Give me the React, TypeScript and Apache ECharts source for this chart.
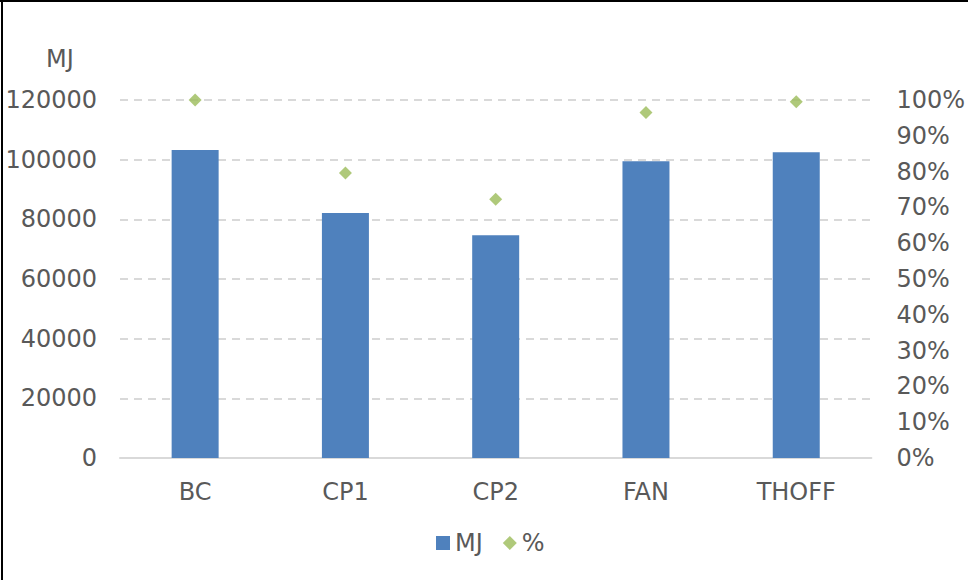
import React, { useEffect, useRef } from "react";
import * as echarts from "echarts";

const categories = ["BC", "CP1", "CP2", "FAN", "THOFF"];
const mjValues = [103200, 82100, 74700, 99500, 102500];
const pctValues = [100, 79.6, 72.3, 96.5, 99.5];

const FONT = "'DejaVu Sans', Verdana, sans-serif";
const TXT = "#595959";
const FS = 24;

export default function App() {
  const ref = useRef<HTMLDivElement>(null);
  useEffect(() => {
    const chart = echarts.init(ref.current!, null, { renderer: "svg" });
    chart.setOption({
      animation: false,
      backgroundColor: "#fff",
      textStyle: { fontFamily: FONT, color: TXT },
      grid: { left: 120, right: 96, top: 100, bottom: 122 },
      legend: {
        bottom: 20,
        left: 431,
        itemWidth: 14,
        itemHeight: 14,
        itemGap: 20,
        textStyle: { fontSize: FS, color: TXT, fontFamily: FONT },
        data: [
          { name: "MJ", icon: "rect" },
          { name: "%", icon: "diamond" },
        ],
      },
      graphic: [
        { type: "line", shape: { x1: 0, y1: 1, x2: 968, y2: 1 }, style: { stroke: "#000", lineWidth: 2 } },
        { type: "line", shape: { x1: 2, y1: 0, x2: 2, y2: 580 }, style: { stroke: "#000", lineWidth: 2 } },
        {
          type: "text",
          left: 46,
          top: 47,
          style: { text: "MJ", fontSize: FS, fill: TXT, fontFamily: FONT },
        },
      ],
      xAxis: {
        type: "category",
        data: categories,
        axisTick: { show: false },
        axisLine: { lineStyle: { color: "#D9D9D9", width: 2 } },
        axisLabel: { fontSize: FS, color: TXT, margin: 22, fontFamily: FONT },
      },
      yAxis: [
        {
          type: "value",
          min: 0,
          max: 120000,
          interval: 20000,
          axisLine: { show: false },
          axisTick: { show: false },
          axisLabel: {
            fontSize: FS,
            color: TXT,
            margin: 23,
            fontFamily: FONT,
            formatter: (v: number) => String(v),
          },
          splitLine: { lineStyle: { color: "#D9D9D9", type: [8, 6], width: 2 } },
        },
        {
          type: "value",
          min: 0,
          max: 100,
          interval: 10,
          axisLine: { show: false },
          axisTick: { show: false },
          splitLine: { show: false },
          axisLabel: { fontSize: FS, color: TXT, margin: 25, formatter: "{value}%", fontFamily: FONT },
        },
      ],
      series: [
        {
          name: "MJ",
          type: "bar",
          data: mjValues,
          barWidth: 47,
          itemStyle: { color: "#4F81BD" },
        },
        {
          name: "%",
          type: "scatter",
          yAxisIndex: 1,
          data: pctValues,
          symbol: "diamond",
          symbolSize: 13,
          itemStyle: { color: "#9BBB59" },
        },
      ],
    });
    return () => chart.dispose();
  }, []);
  return (
    <div
      ref={ref}
      style={{ position: "fixed", left: 0, top: 0, width: 968, height: 580 }}
    />
  );
}
